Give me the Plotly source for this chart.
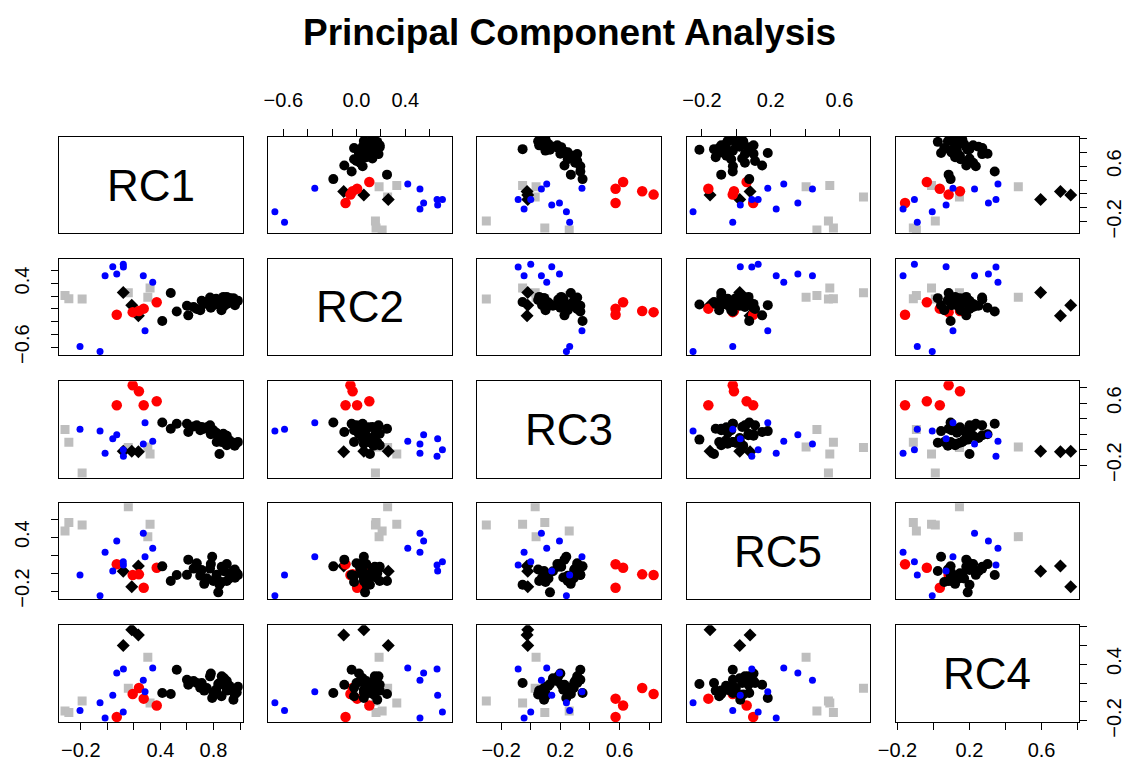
import plotly.graph_objects as go

# ---------------- data (scores) ----------------
VARS = ["RC1", "RC2", "RC3", "RC5", "RC4"]

# group: black circles
black_RC1 = [0.414, 0.478, 0.523, 0.600, 0.610, 0.674, 0.711, 0.749, 0.774, 0.790, 0.799,
             0.836, 0.845, 0.862, 0.874, 0.900, 0.925, 0.950, 0.962, 0.975, 0.824, 0.700,
             0.650, 0.880, 0.920, 0.780, 0.960, 0.860, 0.730, 0.985, 0.900, 0.820]
black_RC2 = [-0.190, 0.250, -0.040, 0.050, -0.100, 0.000, 0.130, 0.100, 0.180, 0.060, 0.060,
             0.070, 0.110, 0.150, 0.190, 0.190, 0.170, 0.170, 0.060, 0.120, 0.100, -0.020,
             0.030, 0.050, 0.100, 0.020, 0.140, -0.020, 0.080, 0.130, 0.080, 0.160]
black_RC3 = [0.350, 0.271, 0.335, 0.335, 0.228, 0.314, 0.293, 0.290, 0.314, 0.240, 0.250,
             0.130, -0.055, 0.186, 0.206, 0.057, 0.090, 0.090, 0.077, 0.090, 0.099, 0.250,
             0.300, 0.150, 0.120, 0.200, 0.050, 0.100, 0.270, 0.100, 0.180, 0.220]
black_RC5 = [0.075, -0.088, -0.021, -0.020, 0.150, 0.109, 0.034, -0.058, 0.050, 0.183, -0.088,
             -0.215, -0.130, 0.070, 0.071, -0.088, -0.003, 0.023, -0.051, 0.000, -0.020, -0.030,
             0.050, 0.020, -0.060, 0.100, 0.040, -0.100, -0.120, -0.020, 0.100, -0.050]
black_RC4 = [0.095, 0.084, 0.340, 0.235, 0.182, 0.200, 0.200, 0.147, 0.270, 0.042, 0.100,
             0.190, 0.200, 0.271, 0.182, 0.120, 0.147, 0.024, 0.129, 0.100, 0.095, 0.150,
             0.220, 0.250, 0.170, 0.300, 0.080, 0.060, 0.120, 0.160, 0.220, 0.130]

# group: black diamonds
diam_RC1 = [0.184, 0.234, 0.120]
diam_RC2 = [0.060, -0.105, 0.260]
diam_RC3 = [-0.020, -0.025, -0.020]
diam_RC5 = [-0.153, 0.080, 0.020]
diam_RC4 = [0.762, 0.705, 0.595]

# group: red circles
red_RC1 = [0.071, 0.191, 0.238, 0.274, 0.372]
red_RC2 = [-0.090, -0.050, -0.032, 0.005, 0.105]
red_RC3 = [0.573, 0.830, 0.753, 0.573, 0.624]
red_RC5 = [0.098, -0.021, -0.014, -0.163, 0.060]
red_RC4 = [-0.158, 0.084, 0.147, 0.035, -0.037]

# group: grey squares
grey_RC1 = [-0.319, -0.290, -0.190, 0.158, 0.322, 0.305]
grey_RC2 = [0.210, 0.160, 0.155, 0.255, 0.330, 0.185]
grey_RC3 = [0.260, 0.095, -0.300, 0.030, -0.055, 0.036]
grey_RC5 = [0.469, 0.565, 0.536, 0.740, 0.544, 0.406]
grey_RC4 = [-0.095, -0.112, 0.010, 0.144, -0.011, 0.471]

# group: blue dots
blue_RC1 = [0.041, 0.121, 0.071, -0.017, 0.271, 0.342, 0.284, -0.206, -0.055, 0.120]
blue_RC2 = [0.665, 0.660, 0.550, 0.520, 0.520, 0.420, -0.342, -0.590, -0.669, 0.704]
blue_RC3 = [0.142, -0.085, 0.194, -0.045, 0.072, 0.108, 0.346, 0.263, 0.241, 0.000]
blue_RC5 = [0.023, 0.090, 0.358, 0.232, 0.443, 0.276, 0.183, -0.021, -0.252, 0.127]
blue_RC4 = [0.070, 0.347, 0.305, -0.169, 0.228, 0.358, 0.108, -0.090, -0.007, -0.106]

# axis ranges (usr) and ticks per variable
RANGES = {"RC1": [-0.362, 1.02], "RC2": [-0.723, 0.785], "RC3": [-0.361, 0.882],
          "RC5": [-0.289, 0.778], "RC4": [-0.211, 0.808]}
TICKS = {"RC1": [-0.2, 0.0, 0.2, 0.4, 0.6, 0.8, 1.0],
         "RC2": [-0.6, -0.4, -0.2, 0.0, 0.2, 0.4, 0.6],
         "RC3": [-0.2, 0.0, 0.2, 0.4, 0.6, 0.8],
         "RC5": [-0.2, 0.0, 0.2, 0.4, 0.6],
         "RC4": [-0.2, 0.0, 0.2, 0.4, 0.6, 0.8]}
# labels shown on the outer axes (others are unlabeled ticks)
LABELS_X = {"RC1": ["−0.2", "", "", "0.4", "", "0.8", ""],
            "RC2": ["−0.6", "", "", "0.0", "", "0.4", ""],
            "RC3": ["−0.2", "", "0.2", "", "0.6", ""],
            "RC5": ["−0.2", "", "0.2", "", "0.6"],
            "RC4": ["−0.2", "", "0.2", "", "0.6", ""]}
LABELS_Y = {"RC1": ["−0.2", "", "", "", "0.6", "", ""],
            "RC2": ["−0.6", "", "", "", "", "0.4", ""],
            "RC3": ["−0.2", "", "", "", "0.6", ""],
            "RC5": ["−0.2", "", "", "0.4", ""],
            "RC4": ["−0.2", "", "", "0.4", "", ""]}

# ---------------- layout geometry ----------------
W, H = 1126, 771
COLS = [(59.3, 242.7), (268.3, 452.3), (477.3, 661.3), (686.7, 870.0), (895.5, 1079.0)]
ROWS = [(137.0, 233.0), (259.0, 355.0), (381.3, 477.7), (503.3, 599.0), (625.3, 722.0)]
FONT = "Liberation Sans, Arial, Helvetica, sans-serif"

groups = [
    (dict(RC1=grey_RC1, RC2=grey_RC2, RC3=grey_RC3, RC5=grey_RC5, RC4=grey_RC4),
     dict(symbol="square", size=9, color="#BEBEBE")),
    (dict(RC1=diam_RC1, RC2=diam_RC2, RC3=diam_RC3, RC5=diam_RC5, RC4=diam_RC4),
     dict(symbol="diamond", size=10, color="black")),
    (dict(RC1=red_RC1, RC2=red_RC2, RC3=red_RC3, RC5=red_RC5, RC4=red_RC4),
     dict(symbol="circle", size=10.5, color="#FF0000")),
    (dict(RC1=black_RC1, RC2=black_RC2, RC3=black_RC3, RC5=black_RC5, RC4=black_RC4),
     dict(symbol="circle", size=10, color="black")),
    (dict(RC1=blue_RC1, RC2=blue_RC2, RC3=blue_RC3, RC5=blue_RC5, RC4=blue_RC4),
     dict(symbol="circle", size=7, color="#0000FF")),
]

fig = go.Figure()
layout = {}
annotations = []

for r in range(5):
    for c in range(5):
        k = r * 5 + c + 1
        xname = "xaxis" if k == 1 else f"xaxis{k}"
        yname = "yaxis" if k == 1 else f"yaxis{k}"
        xref = "x" if k == 1 else f"x{k}"
        yref = "y" if k == 1 else f"y{k}"
        vx, vy = VARS[c], VARS[r]
        x0, x1 = COLS[c]
        y0, y1 = ROWS[r]
        xa = dict(domain=[x0 / W, x1 / W], range=RANGES[vx], anchor=yref,
                  showgrid=False, zeroline=False, showline=True, mirror=True,
                  linecolor="black", linewidth=1, ticks="", showticklabels=False,
                  fixedrange=True, automargin=False)
        ya = dict(domain=[1 - y1 / H, 1 - y0 / H], range=RANGES[vy], anchor=xref,
                  showgrid=False, zeroline=False, showline=True, mirror=True,
                  linecolor="black", linewidth=1, ticks="", showticklabels=False,
                  fixedrange=True, automargin=False)
        tickstyle = dict(ticks="outside", ticklen=7, tickwidth=1, tickcolor="black",
                         showticklabels=True, tickfont=dict(family=FONT, size=20, color="black"))
        # top axis on columns 2 and 4 (row 1), bottom on columns 1,3,5 (row 5)
        if r == 0 and c in (1, 3):
            xa.update(tickstyle, side="top", tickvals=TICKS[vx], ticktext=LABELS_X[vx],
                      ticklabelstandoff=14)
        if r == 4 and c in (0, 2, 4):
            xa.update(tickstyle, side="bottom", tickvals=TICKS[vx], ticktext=LABELS_X[vx],
                      ticklabelstandoff=3)
        # left axis on rows 2 and 4 (col 1), right on rows 1,3,5 (col 5)
        if c == 0 and r in (1, 3):
            ya.update(tickstyle, side="left", tickvals=TICKS[vy], ticktext=LABELS_Y[vy],
                      tickangle=-90, ticklabelstandoff=14)
        if c == 4 and r in (0, 2, 4):
            ya.update(tickstyle, side="right", tickvals=TICKS[vy], ticktext=LABELS_Y[vy],
                      tickangle=-90, ticklabelstandoff=10)
        layout[xname] = xa
        layout[yname] = ya

        if r == c:
            # empty trace so that the diagonal panel box is drawn
            fig.add_trace(go.Scatter(x=[None], y=[None], mode="markers", xaxis=xref, yaxis=yref,
                                     showlegend=False, hoverinfo="skip"))
            annotations.append(dict(text=VARS[r], x=0.5, y=0.5,
                                    xref=f"{xref} domain", yref=f"{yref} domain",
                                    showarrow=False, xanchor="center", yanchor="middle",
                                    font=dict(family=FONT, size=44, color="black")))
        else:
            for data, mk in groups:
                fig.add_trace(go.Scatter(
                    x=data[vx], y=data[vy], mode="markers", xaxis=xref, yaxis=yref,
                    marker=dict(symbol=mk["symbol"], size=mk["size"], color=mk["color"],
                                line=dict(width=0)),
                    showlegend=False, hoverinfo="skip"))

annotations.append(dict(text="<b>Principal Component Analysis</b>", x=569 / W, y=1 - 33 / H,
                        xref="paper", yref="paper", showarrow=False,
                        xanchor="center", yanchor="middle",
                        font=dict(family=FONT, size=37, color="black")))

fig.update_layout(**layout)
fig.update_layout(template="none", width=W, height=H,
                  margin=dict(l=0, r=0, t=0, b=0, autoexpand=False),
                  paper_bgcolor="white", plot_bgcolor="white",
                  annotations=annotations, showlegend=False,
                  font=dict(family=FONT, color="black"))

fig.write_html("out.html")
